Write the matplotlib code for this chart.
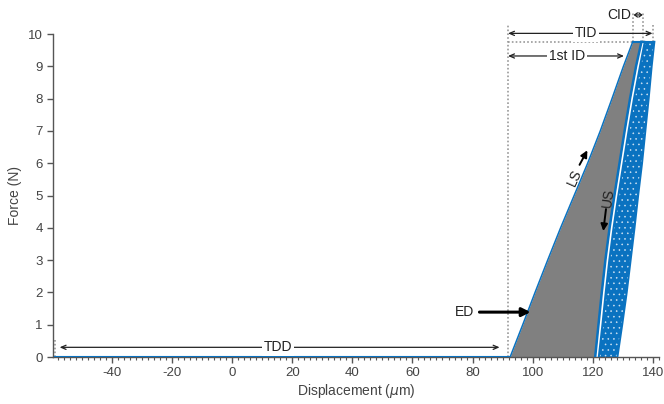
import numpy as np
import matplotlib.pyplot as plt

plt.rcParams['font.family'] = ['Liberation Sans', 'DejaVu Sans']
plt.rcParams['axes.unicode_minus'] = False
plt.rcParams['hatch.linewidth'] = 0.4

# force levels (N) shared by all edge curves
force = [0, 1, 2, 3, 4, 5, 6, 7, 8, 9, 9.76]
# first loading segment (LS) and first unloading segment (US), displacement in um
load_x = [92.5, 96.7, 100.8, 105.0, 109.3, 113.8, 118.3, 122.5, 126.4, 130.2, 133.3]
unload_x = [120.8, 121.9, 123.0, 124.2, 125.6, 127.2, 128.9, 130.6, 132.4, 134.4, 136.2]
# envelope of the following cycles
cycles_left = [122.0, 123.2, 124.3, 125.5, 126.9, 128.5, 130.2, 131.9, 133.7, 135.7, 137.3]
cycles_right = [128.2, 129.8, 131.3, 132.6, 133.9, 135.1, 136.4, 137.5, 138.6, 139.6, 140.5]
# approach before contact
approach_x = [-58.9, 92.5]
approach_f = [0, 0]

xticks = [-40, -20, 0, 20, 40, 60, 80, 100, 120, 140]
yticks = [0, 1, 2, 3, 4, 5, 6, 7, 8, 9, 10]

blue = '#0a72c0'
txt = '#222222'
axc = '#555555'

fig = plt.figure(figsize=(6.64, 4.04), dpi=100)
ax = fig.add_axes([0.0798, 0.1163, 0.9125, 0.7995])

ax.fill_betweenx(force, cycles_left, cycles_right, facecolor=blue,
                 edgecolor='#cfe2f3', hatch='...', linewidth=0, zorder=2)
ax.fill_betweenx(force, load_x, unload_x, color='#808080', linewidth=0, zorder=2)
ax.plot(approach_x, approach_f, color=blue, lw=1.5, zorder=3)
ax.plot(load_x, force, color=blue, lw=1.1, zorder=3)
ax.plot(unload_x, force, color=blue, lw=1.8, zorder=3)
ax.plot(cycles_left, force, color=blue, lw=1.4, zorder=3)
ax.plot(cycles_right, force, color=blue, lw=1.4, zorder=3)
ax.plot([load_x[-1], cycles_right[-1]], [force[-1], force[-1]], color=blue, lw=1.5, zorder=3)

# dotted guide lines
dot = dict(color='#999999', lw=1.2, ls=(0, (1, 1.3)), clip_on=False, zorder=1)
ax.plot([91.8, 91.8], [0, 10.28], **dot)
ax.plot([91.8, 140.1], [9.76, 9.76], **dot)
ax.plot([133.3, 133.3], [9.76, 10.69], **dot)
ax.plot([136.6, 136.6], [9.76, 10.69], **dot)
ax.plot([139.9, 139.9], [9.76, 10.34], **dot)
ax.plot([-58.9, -58.9], [0, 0.55], **dot)


def span(x0, x1, y, label, xt, head=0.35):
    ax.annotate('', xy=(x0, y), xytext=(x1, y), annotation_clip=False,
                arrowprops=dict(arrowstyle=f'<->,head_length={head},head_width=0.15',
                                lw=0.9, color=txt, shrinkA=0, shrinkB=0))
    if label:
        ax.text(xt, y, label, ha='center', va='center', fontsize=10, color=txt,
                bbox=dict(facecolor='white', edgecolor='none', pad=1.5), clip_on=False)


span(-57.4, 89.0, 0.3, 'TDD', 15.3)
span(91.8, 139.9, 10.02, 'TID', 117.8)
span(91.8, 130.4, 9.32, '1st ID', 111.5)
span(133.6, 136.6, 10.59, '', 0, head=0.2)
ax.text(128.8, 10.59, 'CID', ha='center', va='center', fontsize=10, color=txt, clip_on=False)

# ED arrow
ax.text(77.3, 1.39, 'ED', ha='center', va='center', fontsize=10, color=txt)
ax.annotate('', xy=(99.3, 1.39), xytext=(82.3, 1.39),
            arrowprops=dict(arrowstyle='-|>,head_length=0.5,head_width=0.25',
                            lw=2.2, color='black', shrinkA=0, shrinkB=0))

# LS / US labels
ax.text(113.9, 5.55, 'LS', rotation=66, ha='center', va='center', fontsize=10, color=txt)
ax.annotate('', xy=(118.2, 6.4), xytext=(115.6, 5.95),
            arrowprops=dict(arrowstyle='-|>,head_length=0.4,head_width=0.2',
                            lw=1.4, color='black', shrinkA=0, shrinkB=0))
ax.text(125.3, 4.92, 'US', rotation=82, ha='center', va='center', fontsize=10, color=txt)
ax.annotate('', xy=(123.5, 3.9), xytext=(124.4, 4.58),
            arrowprops=dict(arrowstyle='-|>,head_length=0.4,head_width=0.2',
                            lw=1.4, color='black', shrinkA=0, shrinkB=0))

ax.set_xlim(-59.6, 142)
ax.set_ylim(0, 10)
ax.set_xticks(xticks)
ax.set_yticks(yticks)
ax.set_xticks(np.arange(-58, 143, 2), minor=True)
ax.tick_params(which='both', direction='out', colors=axc, labelsize=9.5, labelcolor='#444444')
ax.tick_params(which='major', length=4, width=1)
ax.tick_params(which='minor', length=2.5, width=0.8)
for s in ['top', 'right']:
    ax.spines[s].set_visible(False)
for s in ['left', 'bottom']:
    ax.spines[s].set_color(axc)
    ax.spines[s].set_linewidth(1)

ax.set_xlabel('Displacement ($\\mu$m)', fontsize=10, color='#444444', labelpad=2)
ax.set_ylabel('Force (N)', fontsize=10, color='#444444', labelpad=4)

fig.savefig('out.png', dpi=100)
